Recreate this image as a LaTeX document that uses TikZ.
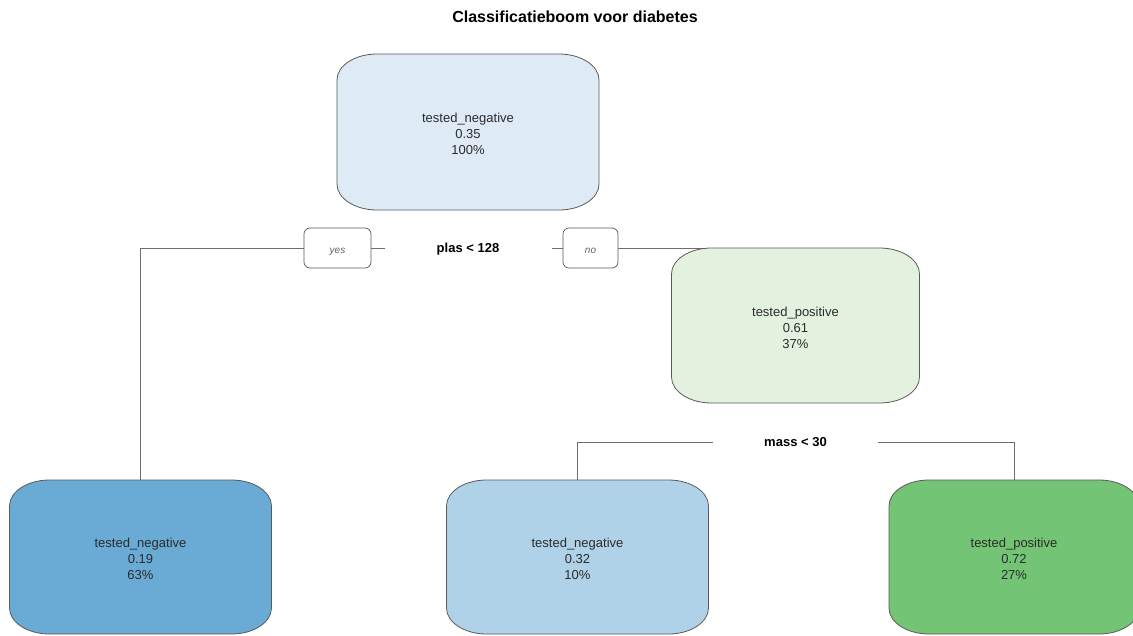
\documentclass[tikz,border=0pt]{standalone}
\usepackage{fontspec}
\setmainfont{Liberation Sans}
\pgfdeclarelayer{bg}
\pgfdeclarelayer{edges}
\pgfdeclarelayer{boxes}
\pgfsetlayers{bg,edges,boxes,main}
\definecolor{txt}{HTML}{2B2B2B}
\definecolor{bordercol}{HTML}{5A5A5A}
\definecolor{linecol}{HTML}{6E6E6E}
\definecolor{rootfill}{HTML}{DEEBF7}
\definecolor{posfill}{HTML}{E3F2DE}
\definecolor{blfill}{HTML}{69ABD4}
\definecolor{bmfill}{HTML}{AFD2E8}
\definecolor{brfill}{HTML}{74C476}
\tikzset{
  leaf/.style={inner sep=0pt,outer sep=0pt},
  leaftext/.style={inner sep=0pt,outer sep=0pt,align=center,
    font=\fontsize{13}{16}\selectfont,text=txt},
  boxline/.style={draw=bordercol,line width=0.8pt},
  conn/.style={draw=linecol,line width=0.8pt},
  tag/.style={draw=bordercol,line width=0.7pt,rounded corners=6pt,fill=white,
    minimum height=40pt,inner sep=0pt,outer sep=0pt,
    text height=10.5pt,text depth=0pt,
    font=\itshape\fontsize{10}{12}\selectfont,text=txt!75},
  splitlab/.style={font=\bfseries\fontsize{13}{16}\selectfont,text=black,
    text height=9.4pt,text depth=0pt,
    minimum width=165pt,minimum height=20pt,inner sep=0pt,outer sep=0pt},
  titlelab/.style={font=\bfseries\fontsize{16}{19}\selectfont,text=black}
}
\newcommand\rpbox[2]{%
  \begin{pgfonlayer}{boxes}
  \draw[boxline,fill=#2]
    ([xshift=40pt]#1.north west) -- ([xshift=-40pt]#1.north east)
    arc[start angle=90,end angle=0,x radius=40pt,y radius=26pt]
    -- ([yshift=26pt]#1.south east)
    arc[start angle=0,end angle=-90,x radius=40pt,y radius=26pt]
    -- ([xshift=40pt]#1.south west)
    arc[start angle=270,end angle=180,x radius=40pt,y radius=26pt]
    -- ([yshift=-26pt]#1.north west)
    arc[start angle=180,end angle=90,x radius=40pt,y radius=26pt] -- cycle;
  \end{pgfonlayer}}
\begin{document}
\begin{tikzpicture}[x=1pt,y=1pt]
\useasboundingbox (0,0) rectangle (1133,-635);
\begin{pgfonlayer}{bg}
\fill[white] (0,0) rectangle (1133,-635);
\end{pgfonlayer}

\node[titlelab] (title) at (575,-17) {Classificatieboom voor diabetes};

\node[leaf,minimum width=262pt,minimum height=156pt] (root) at (468,-132) {};
\node[leaf,minimum width=248pt,minimum height=155pt] (pos) at (795.5,-325.5) {};
\node[leaf,minimum width=262pt,minimum height=154pt] (bl) at (140.5,-557) {};
\node[leaf,minimum width=262pt,minimum height=154pt] (bm) at (577.5,-557) {};
\node[leaf,minimum width=250pt,minimum height=154pt] (br) at (1014,-557) {};

\node[leaftext] (roott) at ([yshift=-2pt]root.center) {tested\_negative\\0.35\\100\%};
\node[leaftext] (post) at ([yshift=-2pt]pos.center) {tested\_positive\\0.61\\37\%};
\node[leaftext] (blt) at ([yshift=-2pt]bl.center) {tested\_negative\\0.19\\63\%};
\node[leaftext] (bmt) at ([yshift=-2pt]bm.center) {tested\_negative\\0.32\\10\%};
\node[leaftext] (brt) at ([yshift=-2pt]br.center) {tested\_positive\\0.72\\27\%};

\rpbox{root}{rootfill}
\rpbox{pos}{posfill}
\rpbox{bl}{blfill}
\rpbox{bm}{bmfill}
\rpbox{br}{brfill}

\node[splitlab] (plas) at (468,-248) {plas < 128};
\node[tag,minimum width=67pt] (yes) at (337.5,-248) {yes};
\node[tag,minimum width=55pt] (no) at (590.5,-248) {no};
\node[splitlab] (mass) at (795.5,-442) {mass < 30};

\begin{pgfonlayer}{edges}
\draw[conn] (bl.north) |- (yes.west);
\draw[conn] (yes.east) -- ([xshift=-1pt]plas.west);
\draw[conn] ([xshift=1pt]plas.east) -- (no.west);
\draw[conn] (no.east) -- (pos.north);
\draw[conn] (bm.north) |- (mass.west);
\draw[conn] (mass.east) -| (br.north);
\end{pgfonlayer}
\end{tikzpicture}
\end{document}
